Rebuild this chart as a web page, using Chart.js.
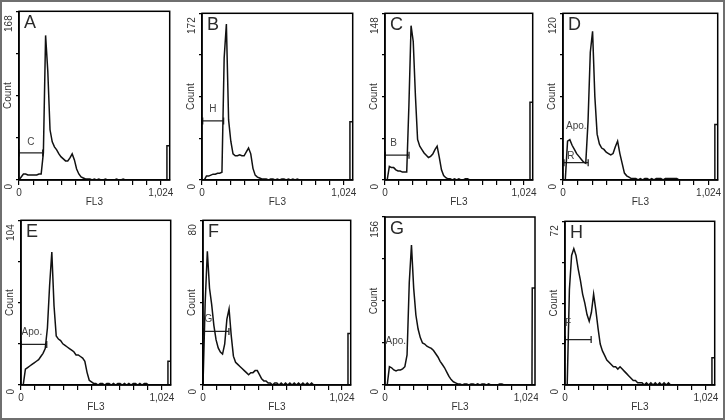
<!DOCTYPE html>
<html>
<head>
<meta charset="utf-8">
<script src="https://cdn.jsdelivr.net/npm/chart.js@4.4.1/dist/chart.umd.min.js"></script>
<style>
  body { margin: 0; background: #fff; }
  #frame { position: absolute; left: 0; top: 0; width: 725px; height: 420px; box-sizing: border-box; border: 2px solid #6f6f6f; }
  canvas { position: absolute; }
</style>
</head>
<body>
<div id="frame"></div>
<script>
// FL3 channel of each reading; the last two points are the off-scale pile-up
const channels = [0, 16, 32, 48, 64, 80, 96, 112, 128, 144, 160, 176, 192, 208, 224, 240,
  256, 272, 288, 304, 320, 336, 352, 368, 384, 400, 416, 432, 448, 464, 480, 496,
  512, 528, 544, 560, 576, 592, 608, 624, 640, 656, 672, 688, 704, 720, 736, 752,
  768, 784, 800, 816, 832, 848, 864, 880, 896, 912, 928, 944, 960, 976, 992, 1008,
  1024, 1066, 1068, 1088];

const countsA = [0,3,6,6,5,5,5,5,5,6, 6,27,144,108,50,38,33,30,26,23, 21,19,19,22,26,20,11,6,3,2,
  1,1,1,0,1,0,1,0,0,1, 0,0,0,0,1,0,0,1,0, 0,0,0,0,0,0,0,0,0,0,0,0,0,0,0, 0,0,34,34];
const countsB = [0,0,4,4,5,6,6,7,7,8, 126,161,62,40,27,25,25,26,25,25, 29,33,27,12,5,3,2,1,1,1,
  0,1,1,0,1,0,1,1,0,1, 0,1,0,1, 0,0,0,0,0,0,0,0,0,0,0,0,0,0,0,0,0,0,0,0, 0,0,60,60];
const countsC = [0,0,12,11,11,9,8,8,7,7, 7,66,137,123,75,36,30,27,24,22, 20,21,23,27,30,20,9,4,2,1,
  1,0,1,0,1,0,0,1,1, 0,0,0,0,0,0,0,0,0,0,0,0,0,0,0,0,0,0,0,0,0,0,0,0,0, 0,0,69,69];
const countsD = [0,0,28,29,25,22,19,17,15,13, 12,42,92,107,60,33,26,23,22,20, 19,18,19,24,28,19,12,5,3,2,
  1,1,1,0,1,0,1,1,0,1, 0,1,1,1,0,1,1,1,1,1, 1,0, 0,0,0,0,0,0,0,0,0,0,0,0, 0,0,40,40];
const countsE = [0,0,10,11,12,13,14,15,16,18, 20,23,36,63,84,50,31,29,28,26, 25,24,23,22,21,19,19,18,17,15,
  8,3,2,1,1,0,1,1,0,1, 1,0,1,0,1,1,0,1,0,1, 0,1,1,0,1,0,1,1,0, 0,0,0,0,0, 0,0,15,15];
const countsF = [0,40,65,47,39,29,22,18,16,15, 20,32,37,24,14,11,10,9,8,7, 6,5,6,6,7,7,5,3,2,2,
  1,1,0,1,1,0,1,0,1,0, 1,0,1,0,1,0,1,0,1,0,1,0, 0,0,0,0,0,0,0,0,0,0,0,0, 0,0,25,25];
const countsG = [0,0,17,16,14,13,14,14,15,17, 28,95,130,90,65,52,44,39,38,36, 35,34,32,29,26,22,19,16,12,8,
  5,3,2,1,1,0,1,1,0,1, 1,0,1,0,1,1,0,1,0,0, 0,0,1,1, 0,0,0,0,0,0,0,0,0,0, 0,0,90,90];
const countsH = [0,0,42,57,60,57,51,46,40,36, 31,28,32,40,33,25,18,15,13,11, 10,9,8,8,7,8,7,6,5,4,
  3,2,2,1,1,1,0,1,0,1, 0,1,0,1,0,1,0,1, 0,0,0,0,0,0,0,0,0,0,0,0,0,0,0,0, 0,0,12,12];

const panelCounts = [countsA, countsB, countsC, countsD, countsE, countsF, countsG, countsH];
const panelLetters = ['A', 'B', 'C', 'D', 'E', 'F', 'G', 'H'];
const countMax = [168, 172, 148, 120, 104, 80, 156, 72];

const fl3Ticks = [0, 102.4, 204.8, 307.2, 409.6, 512, 614.4, 716.8, 819.2, 921.6, 1024];
const fl3TickLabels = ['0', '', '', '', '', '', '', '', '', '', '1,024'];

// marker gates (null = no bar drawn)
const gateFrom  = [0, 5, 2, 7, 0, 0, null, 2];
const gateTo    = [171, 156, 177, 177, 187, 191, null, 190];
const gateLevel = [27, 61, 22, 12.5, 25.6, 26, null, 20];
const gateNames = [['C'], ['H'], ['B'], ['Apo.', 'R'], ['Apo.'], ['G'], ['Apo.'], ['F']];
const gateNameX = [[85], [79], [63], [94, 55], [79], [39], [78], [22]];
const gateNameY = [[38], [73], [33], [39, 17], [33], [32], [41], [27]];

// plot box of each panel on the page: left, top, right, bottom
const boxes = [
  [19, 8, 172, 180], [202, 10, 355, 180], [385, 10, 535, 180], [563, 10, 720, 180],
  [21, 217, 173, 385], [203, 217, 353, 385], [385, 217, 535, 385], [565, 218, 717, 385]
];

Chart.defaults.font.family = 'Arial, "Liberation Sans", sans-serif';
Chart.defaults.color = '#333';

const framePlugin = {
  id: 'frame',
  afterDatasetsDraw(chart) {
    const { ctx, chartArea: a } = chart;
    ctx.save();
    ctx.strokeStyle = '#000';
    ctx.lineWidth = 1.5;
    ctx.strokeRect(a.left, a.top, a.width, a.height);
    ctx.restore();
  }
};

const textPlugin = {
  id: 'panelText',
  afterDraw(chart, args, opts) {
    const { ctx, chartArea: a, scales } = chart;
    const i = opts.index;
    ctx.save();
    ctx.fillStyle = '#2a2a2a';
    ctx.font = '18px Arial, "Liberation Sans", sans-serif';
    ctx.textBaseline = 'top';
    ctx.fillText(panelLetters[i], a.left + 5, a.top + 3);
    ctx.fillStyle = '#444';
    ctx.font = '10px Arial, "Liberation Sans", sans-serif';
    ctx.textAlign = 'center';
    ctx.textBaseline = 'middle';
    gateNames[i].forEach((t, k) => {
      ctx.fillText(t, scales.x.getPixelForValue(gateNameX[i][k]), scales.y.getPixelForValue(gateNameY[i][k]));
    });
    ctx.restore();
  }
};

panelCounts.forEach((counts, i) => {
  const [L, T, R, B] = boxes[i];
  const cv = document.createElement('canvas');
  const w = R - L + 22, h = B - T + 30;
  cv.width = w; cv.height = h;
  cv.style.left = (L - 19) + 'px';
  cv.style.top = (T - 2) + 'px';
  cv.style.width = w + 'px';
  cv.style.height = h + 'px';
  document.body.appendChild(cv);

  const datasets = [{
    data: channels.map((c, k) => ({ x: c, y: counts[k] })),
    borderColor: '#111',
    borderWidth: 1.5,
    pointRadius: 0,
    tension: 0
  }];
  if (gateFrom[i] !== null) {
    datasets.push({
      data: [{ x: gateFrom[i], y: gateLevel[i] }, { x: gateTo[i], y: gateLevel[i] }],
      borderColor: '#222',
      borderWidth: 1.3,
      pointStyle: 'line',
      pointRotation: 90,
      pointRadius: 3.5,
      pointBorderWidth: 1.3,
      pointBorderColor: '#222'
    });
  }

  const ymax = countMax[i];
  new Chart(cv, {
    type: 'line',
    data: { datasets: datasets },
    options: {
      responsive: false,
      animation: false,
      layout: { padding: { left: 0, top: 2, right: 3, bottom: 0 } },
      plugins: { legend: { display: false }, tooltip: { enabled: false }, panelText: { index: i } },
      scales: {
        x: {
          type: 'linear', min: 0, max: 1088,
          afterBuildTicks: s => { s.ticks = fl3Ticks.map(v => ({ value: v })); },
          afterFit: s => { s.height = 28; s.paddingLeft = 0; s.paddingRight = 0; },
          ticks: {
            autoSkip: false, maxRotation: 0, padding: 2, color: '#333', font: { size: 10 },
            callback: (v, idx) => fl3TickLabels[idx]
          },
          grid: { drawOnChartArea: false, tickLength: 5, color: '#000', lineWidth: 1.2 },
          border: { display: true, color: '#000', width: 1.5 },
          title: { display: true, text: 'FL3', color: '#333', font: { size: 10 }, padding: 0 }
        },
        y: {
          min: 0, max: ymax,
          afterBuildTicks: s => { s.ticks = [0, ymax / 4, ymax / 2, ymax * 3 / 4, ymax].map(v => ({ value: v })); },
          afterFit: s => { s.width = 19; s.paddingTop = 0; s.paddingBottom = 0; },
          ticks: {
            minRotation: 90, maxRotation: 90, padding: 7, labelOffset: 4, color: '#333', font: { size: 10 },
            callback: v => (v === 0 || v === ymax) ? String(v) : ''
          },
          grid: { drawOnChartArea: false, tickLength: 3, color: '#000', lineWidth: 1.2 },
          border: { display: true, color: '#000', width: 1.5 },
          title: { display: true, text: 'Count', color: '#333', font: { size: 10 }, padding: { top: 2, bottom: 0 } }
        }
      }
    },
    plugins: [framePlugin, textPlugin]
  });
});
</script>
</body>
</html>
